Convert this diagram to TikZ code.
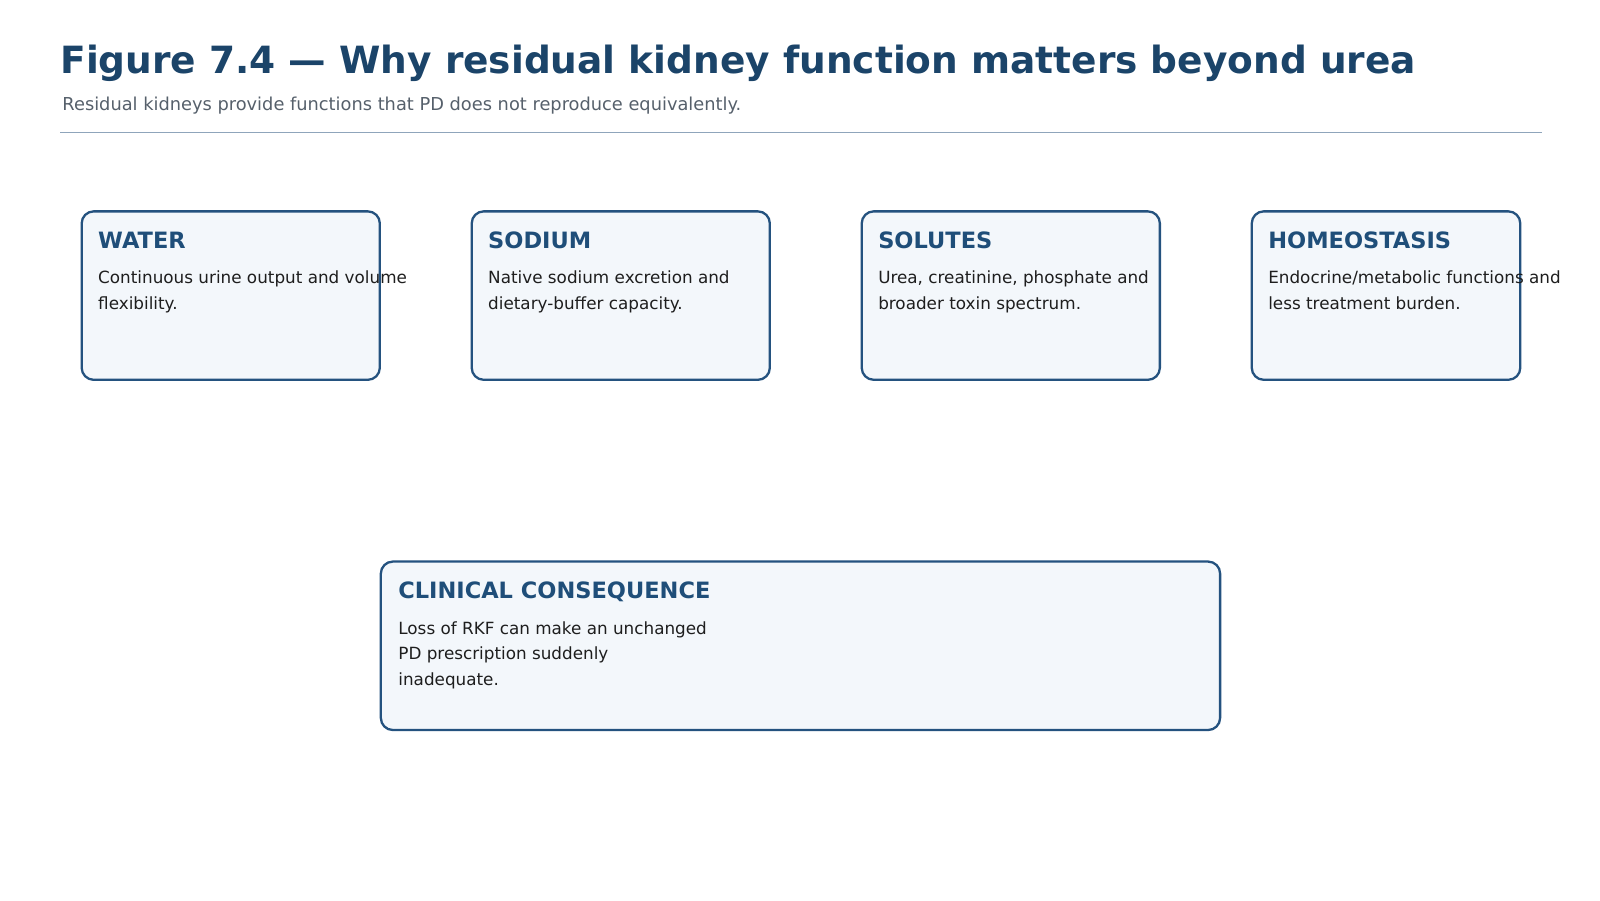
\documentclass[tikz,border=0pt]{standalone}
\usepackage{fontspec}
\setmainfont{DejaVu Sans}
\definecolor{titlec}{HTML}{1B4469}
\definecolor{subc}{HTML}{56606B}
\definecolor{boxb}{HTML}{24527F}
\definecolor{boxf}{HTML}{F3F7FB}
\definecolor{headc}{HTML}{1F4E79}
\definecolor{bodyc}{HTML}{1E1E1E}
\definecolor{rulec}{HTML}{8FA5BB}
\begin{document}
\begin{tikzpicture}[x=1.021pt,y=-1.021pt,
  box/.style={draw=boxb,fill=boxf,line width=2.3pt,rounded corners=12pt},
  head/.style={anchor=base west,inner sep=0pt,font=\fontsize{22.5}{26}\selectfont\bfseries,text=headc},
  body/.style={anchor=base west,inner sep=0pt,font=\fontsize{16.8}{25}\selectfont,text=bodyc}]
\useasboundingbox (0pt,0pt) rectangle (1600pt,-900pt);
\node[anchor=base west,inner sep=0pt,font=\fontsize{37.5}{44}\selectfont\bfseries,text=titlec] (title) at (59,72) {Figure 7.4 — Why residual kidney function matters beyond urea};
\node[anchor=base west,inner sep=0pt,font=\fontsize{17.8}{21}\selectfont,text=subc] (sub) at (61,108) {Residual kidneys provide functions that PD does not reproduce equivalently.};
\draw[rulec,line width=1.5pt] (59,130) -- (1510,130);

\draw[box] (80,207) rectangle (372,372);
\node[head] (h1) at (96,243) {WATER};
\node[body] (b1a) at (96,278) {Continuous urine output and volume};
\node[body] (b1b) at (96,303) {flexibility.};

\draw[box] (462,207) rectangle (754,372);
\node[head] (h2) at (478,243) {SODIUM};
\node[body] (b2a) at (478,278) {Native sodium excretion and};
\node[body] (b2b) at (478,303) {dietary-buffer capacity.};

\draw[box] (844,207) rectangle (1136,372);
\node[head] (h3) at (860,243) {SOLUTES};
\node[body] (b3a) at (860,278) {Urea, creatinine, phosphate and};
\node[body] (b3b) at (860,303) {broader toxin spectrum.};

\draw[box] (1226,207) rectangle (1489,372);
\node[head] (h4) at (1242,243) {HOMEOSTASIS};
\node[body] (b4a) at (1242,278) {Endocrine/metabolic functions and};
\node[body] (b4b) at (1242,303) {less treatment burden.};

\draw[box] (373,550) rectangle (1195,715);
\node[head] (h5) at (390,586) {CLINICAL CONSEQUENCE};
\node[body] (b5a) at (390,621) {Loss of RKF can make an unchanged};
\node[body] (b5b) at (390,646) {PD prescription suddenly};
\node[body] (b5c) at (390,671) {inadequate.};
\end{tikzpicture}
\end{document}
